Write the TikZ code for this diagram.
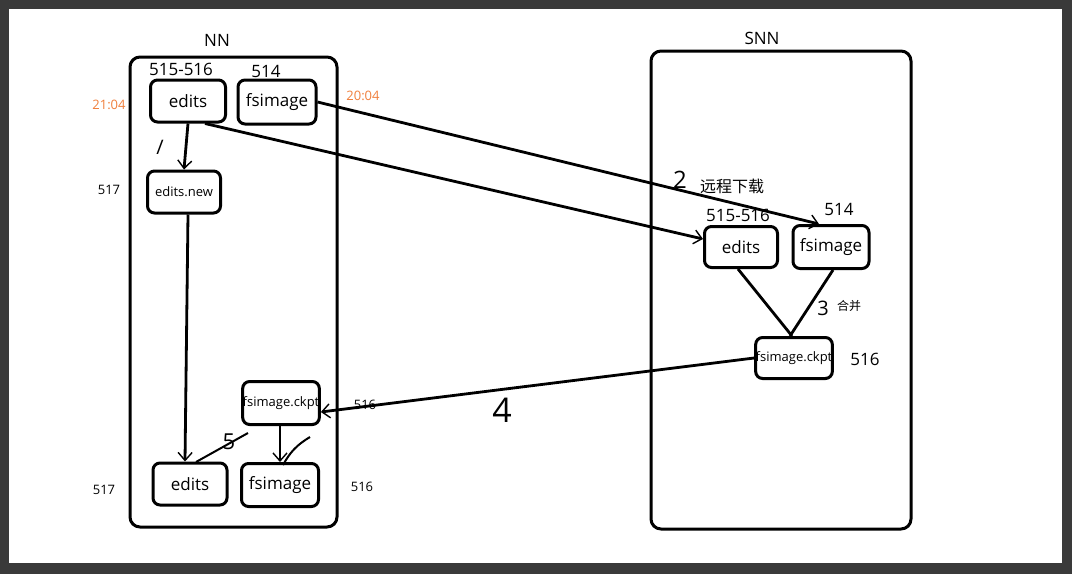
\documentclass[tikz,border=0pt]{standalone}
\usepackage{fontspec}
\setmainfont{Open Sans}
\newfontfamily\cjk{Noto Sans CJK SC}
\usetikzlibrary{arrows.meta}
\definecolor{frame}{HTML}{3A3A3A}
\definecolor{orng}{HTML}{F07F3C}
\begin{document}
\begin{tikzpicture}[x=1pt,y=-1pt,
  box/.style={draw,line width=3pt,rounded corners=7pt,inner sep=0pt,font=\fontsize{17}{19}\selectfont},
  big/.style={draw,line width=3pt,rounded corners=10pt},
  lbl/.style={font=\fontsize{13}{15}\selectfont,inner sep=0pt},
  num/.style={font=\fontsize{17}{19}\selectfont,inner sep=0pt},
  ar/.style={line width=2.8pt,-{Straight Barb[length=8pt,width=14pt,line width=1.4pt]}},
  ln/.style={line width=2.8pt}]
\useasboundingbox (0,0) rectangle (1072,574);
\fill[frame] (0,0) rectangle (1072,574);
\fill[white] (9,9) rectangle (1062,563);
% containers
\draw[big] (130,57) rectangle (337,527);
\draw[big] (651,51) rectangle (911,529);
\node[num] (nn) at (217,40) {NN};
\node[num] (snn) at (762,38) {SNN};
% NN boxes
\node[box,minimum width=75pt,minimum height=42pt] (e1) at (188,101) {edits};
\node[box,minimum width=78pt,minimum height=44pt] (f1) at (277,102) {fsimage};
\node[box,minimum width=73pt,minimum height=42pt,font=\fontsize{13}{15}\selectfont] (en) at (184,192) {edits.new};
\node[box,minimum width=75pt,minimum height=43pt,font=\fontsize{13}{15}\selectfont] (ck1) at (281,403) {fsimage.ckpt};
\node[box,minimum width=74pt,minimum height=42pt] (e2) at (190,484) {edits};
\node[box,minimum width=77pt,minimum height=43pt] (f2) at (280,485) {fsimage};
% SNN boxes
\node[box,minimum width=73pt,minimum height=41pt] (e3) at (741,247) {edits};
\node[box,minimum width=76pt,minimum height=43pt] (f3) at (831,247) {fsimage};
\node[box,minimum width=74pt,minimum height=41pt,font=\fontsize{13}{15}\selectfont] (ck2) at (794,358) {fsimage.ckpt};
% labels
\node[num] (l1) at (181,69) {515-516};
\node[num] (l2) at (266,71) {514};
\node[lbl,text=orng] (t1) at (109,105) {21:04};
\node[lbl,text=orng] (t2) at (363,96) {20:04};
\node[lbl] (l3) at (109,190) {517};
\node[lbl] (l4) at (365,405) {516};
\node[lbl] (l5) at (104,490) {517};
\node[lbl] (l6) at (362,487) {516};
\node[num] (l7) at (738,215) {515-516};
\node[num] (l8) at (839,209) {514};
\node[num] (l9) at (865,359) {516};
\node[inner sep=0pt,font=\cjk\fontsize{16}{18}\selectfont] (dl) at (732,186) {远程下载};
\node[inner sep=0pt,font=\cjk\fontsize{12}{14}\selectfont] (hb) at (849,306) {合并};
\node[inner sep=0pt,font=\fontsize{20}{22}\selectfont] (n1) at (160,147) {/};
\node[inner sep=0pt,font=\fontsize{24}{26}\selectfont] (n2) at (680,180) {2};
\node[inner sep=0pt,font=\fontsize{20}{22}\selectfont] (n3) at (823,308) {3};
\node[inner sep=0pt,font=\fontsize{34}{36}\selectfont] (n4) at (502,410) {4};
\node[inner sep=0pt,font=\fontsize{22}{24}\selectfont] (n5) at (229,442) {5};
% connectors
\draw[ar] (e1.south) -- (en.north);
\draw[ar] ([xshift=4pt]en.south) -- ([xshift=-5pt]e2.north);
\draw[ar] (ck1.south -| f2.north) -- (f2.north);
\draw[ar] (f1.east) -- ([xshift=-12pt]f3.north);
\draw[ar] ([xshift=17pt]e1.south) -- ([yshift=8pt]e3.west);
\draw[ln] ([xshift=-3pt]e3.south) -- ([xshift=-2pt]ck2.north);
\draw[ln] ([xshift=2pt]f3.south) -- ([xshift=-4pt]ck2.north);
\draw[ar] (ck2.west) -- ([yshift=-9pt]ck1.east);
\coordinate (s5a) at (248,433); \coordinate (s5b) at (196,462);
\draw[line width=2pt] (s5a) -- (s5b);
\coordinate (s6a) at (310,437); \coordinate (s6b) at (283,465);
\draw[line width=2pt] (s6a) to[bend right=15] (s6b);
\end{tikzpicture}
\end{document}
